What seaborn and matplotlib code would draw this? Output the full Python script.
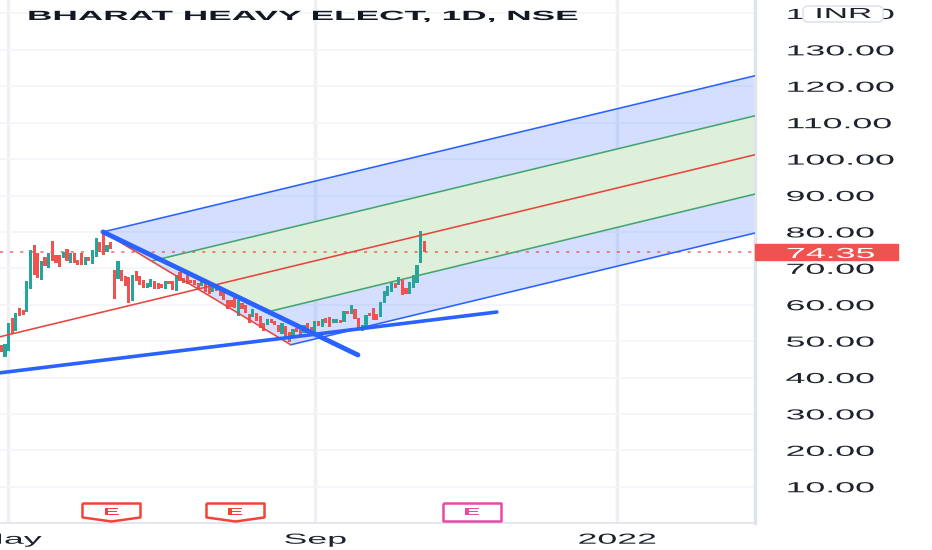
"""BHEL daily chart with a pitchfork drawn over the candles."""

import numpy as np
import pandas as pd
import seaborn as sns
import matplotlib.pyplot as plt
from matplotlib.patches import FancyBboxPatch, Rectangle
from matplotlib.patheffects import AbstractPathEffect
from matplotlib.transforms import Affine2D, IdentityTransform

# candle bodies, one per trading day
opens = [49.0, 45.6, 47.4, 56.3, 52.8, 59.0, 58.6, 58.1, 64.3, 76.4, 74.3, 66.8, 73.0, 70.0, 77.6,
         73.7, 73.7, 72.8, 75.2, 71.4, 74.3, 72.3, 74.1, 70.8, 73.2, 71.2, 73.2, 77.3, 79.6, 74.6,
         77.3, 69.6, 67.0, 69.6, 67.9, 67.5, 61.0, 69.3, 67.9, 66.8, 64.7, 65.0, 66.5, 66.1, 65.7,
         64.3, 66.4, 66.4, 63.9, 68.9, 67.3, 68.2, 66.8, 66.8, 65.9, 65.2, 65.9, 65.4, 63.6, 65.0,
         63.9, 63.6, 61.3, 61.3, 62.0, 57.0, 60.4, 60.0, 57.4, 56.6, 57.7, 57.0, 54.9, 54.5, 56.1,
         55.6, 54.5, 52.0, 54.2, 52.4, 51.1, 53.5, 53.5, 52.2, 54.9, 54.0, 52.2, 55.4, 53.8, 56.3,
         56.6, 54.9, 55.1, 55.8, 55.2, 58.4, 57.4, 58.8, 56.3, 52.9, 53.5, 57.8, 59.0, 57.4, 56.7,
         60.4, 62.4, 63.6, 65.9, 65.3, 66.8, 64.7, 63.0, 64.7, 65.9, 71.4, 77.5]
closes = [46.9, 49.2, 54.9, 52.0, 57.7, 57.0, 57.2, 66.4, 74.9, 68.2, 67.3, 71.9, 70.7, 74.1, 71.9,
          71.6, 70.5, 74.6, 71.9, 74.1, 71.4, 70.8, 70.8, 73.2, 72.1, 75.1, 78.3, 74.6, 73.7, 76.4,
          75.2, 61.6, 71.9, 66.4, 65.2, 60.6, 68.2, 66.4, 65.4, 64.5, 66.1, 67.1, 64.3, 64.3, 64.7,
          66.4, 65.7, 64.1, 68.2, 66.4, 65.9, 65.7, 65.9, 65.4, 64.5, 66.6, 63.6, 63.0, 65.0, 63.9,
          62.4, 61.3, 58.8, 59.3, 59.0, 61.3, 58.8, 57.7, 54.9, 58.8, 55.4, 53.5, 52.9, 56.1, 54.9,
          54.5, 52.4, 54.9, 51.1, 49.9, 53.4, 52.6, 51.7, 54.5, 52.2, 52.2, 55.4, 54.2, 56.0, 54.9,
          54.0, 56.0, 56.0, 54.9, 58.4, 57.4, 59.8, 56.1, 53.5, 54.5, 57.2, 56.9, 55.8, 55.8, 60.7,
          63.9, 65.2, 66.2, 64.5, 67.7, 62.7, 63.0, 66.2, 68.2, 70.9, 80.3, 74.35]

last_price = 74.35
price_ticks = [10, 20, 30, 40, 50, 60, 70, 80, 90, 100, 110, 120, 130, 140]
month_bars = [1.84, 86.0, 168.8]
month_labels = ["May", "Sep", "2022"]

# pitchfork and trend lines as [bar, bar], [price, price]
upper_bars, upper_prices = [27.9, 206.7], [80.0, 122.9]
lower_bars, lower_prices = [79.4, 206.7], [49.0, 79.7]
median_bars, median_prices = [-0.36, 206.7], [51.2, 101.2]
green_up_bars, green_up_prices = [41.6, 206.7], [72.1, 111.9]
green_low_bars, green_low_prices = [72.9, 206.7], [58.0, 90.4]
handle_bars, handle_prices = [27.9, 79.4], [80.0, 49.0]
falling_bars, falling_prices = [27.9, 97.8], [80.0, 46.2]
rising_bars, rising_prices = [-0.36, 135.9], [41.3, 58.0]

earnings_bars = [30.1, 64.0]
earnings_next_bar = [129.0]
earnings_price = 3.1

RED = "#ef5350"
GREEN = "#26a69a"
BLUE = "#2962ff"
GRID = "#f4f5f8"
TEXT = "#1e222d"


class Wide(AbstractPathEffect):
    """The reference screenshot is squeezed, so its glyphs are much wider than tall."""

    def __init__(self, sx=2.45, center=False):
        super().__init__()
        self.sx = sx
        self.center = center

    def draw_path(self, renderer, gc, tpath, affine, rgbFace=None):
        mid = tpath.get_extents().x1 / 2 if self.center else 0
        stretch = Affine2D().translate(-mid, 0).scale(self.sx, 1).translate(mid, 0)
        renderer.draw_path(gc, tpath, stretch + affine, rgbFace)


sns.set_theme(style="white")
plt.rcParams["font.family"] = ["Liberation Sans", "DejaVu Sans"]

fig = plt.figure(figsize=(9.32, 5.5), dpi=100)
ax = fig.add_axes([0, 27 / 550, 755 / 932, 523 / 550])
ax.set_xlim(-0.356, 206.7)
ax.set_ylim(0.05, 143.7)

ax.set_axisbelow(True)
ax.yaxis.grid(True, color=GRID, lw=1.2)
ax.xaxis.grid(True, color="#eef0f3", lw=2.5)

# channel fills
ax.fill(upper_bars + lower_bars[::-1], upper_prices + lower_prices[::-1],
        color=BLUE, alpha=0.2, lw=0, zorder=1)
ax.fill(green_up_bars + green_low_bars[::-1], green_up_prices + green_low_prices[::-1],
        color="#e0f2d8", alpha=0.95, lw=0, zorder=1.1)

# dotted last price line
ax.axhline(last_price, color=RED, lw=1.4, alpha=0.7, ls=(0, (1.6, 3.6)), zorder=1.5)

# candles
candles = pd.DataFrame({"bar": np.arange(len(opens)), "open": opens, "close": closes})
candles["bottom"] = candles[["open", "close"]].min(axis=1)
candles["height"] = (candles["close"] - candles["open"]).abs()
candles["color"] = np.where(candles["close"] >= candles["open"], GREEN, RED)
ax.bar(candles["bar"], candles["height"], bottom=candles["bottom"], width=0.86,
       color=candles["color"], lw=0, zorder=3)

# thin pitchfork lines
thin_lines = [
    (upper_bars, upper_prices, BLUE),
    (lower_bars, lower_prices, BLUE),
    (median_bars, median_prices, "#e8453c"),
    (green_up_bars, green_up_prices, "#45a571"),
    (green_low_bars, green_low_prices, "#45a571"),
    (handle_bars, handle_prices, "#e8453c"),
]
for xs, ys, colour in thin_lines:
    sns.lineplot(x=xs, y=ys, color=colour, lw=1.15, ax=ax, zorder=4, estimator=None)

# hand drawn trend lines
sns.lineplot(x=falling_bars, y=falling_prices, color=BLUE, lw=3.5, ax=ax, zorder=5, estimator=None)
sns.lineplot(x=rising_bars, y=rising_prices, color=BLUE, lw=2.6, ax=ax, zorder=5, estimator=None)

# earnings flags
flag = [(-1, 0.31), (1, 0.31), (1, -0.17), (0, -0.31), (-1, -0.17), (-1, 0.31)]
box = [(-1, 0.31), (1, 0.31), (1, -0.31), (-1, -0.31), (-1, 0.31)]
ax.scatter(earnings_bars, [earnings_price] * 2, marker=flag, s=1745, facecolor="white",
           edgecolor="#f44336", lw=1.8, zorder=6)
ax.scatter(earnings_next_bar, [earnings_price], marker=box, s=1745, facecolor="white",
           edgecolor="#e84aa6", lw=1.8, zorder=6)
for bar, colour in zip(earnings_bars + earnings_next_bar, ["#f44336", "#f44336", "#e84aa6"]):
    ax.text(bar, earnings_price, "E", color=colour, fontsize=7.2, fontweight="bold",
            ha="center", va="center", zorder=7, path_effects=[Wide(2.5, center=True)])

# axes
ax.yaxis.tick_right()
ax.set_yticks(price_ticks, [f"{p:.2f}" for p in price_ticks])
ax.set_xticks(month_bars, month_labels)
ax.tick_params(axis="y", length=0, pad=22, labelsize=10.5, labelcolor=TEXT)
ax.tick_params(axis="x", length=0, pad=7, labelsize=10.5, labelcolor=TEXT)
for label in ax.get_yticklabels():
    label.set_path_effects([Wide()])
for label in ax.get_xticklabels():
    label.set_path_effects([Wide(center=True)])
for side in ["top", "left"]:
    ax.spines[side].set_visible(False)
ax.spines["right"].set_color("#e0e3eb")
ax.spines["right"].set_linewidth(2.4)
ax.spines["bottom"].set_color("#e0e3eb")
ax.spines["bottom"].set_linewidth(1.2)

# last price tag
ax.add_patch(Rectangle((1.0, last_price - 2.2), 143 / 755, 4.4, transform=ax.get_yaxis_transform(),
                       color=RED, clip_on=False, zorder=6))
ax.text(1 + 31 / 755, last_price, "74.35", transform=ax.get_yaxis_transform(), color="white",
        fontsize=10.5, ha="left", va="center_baseline", clip_on=False, zorder=7,
        path_effects=[Wide()])

# currency pill over the top price label, placed in pixels
fig.add_artist(FancyBboxPatch((803, 528), 80, 16, boxstyle="round,pad=0,rounding_size=5",
                              fc="white", ec="#e0e3eb", lw=1.2, transform=IdentityTransform(),
                              zorder=10))
fig.text(843 / 932, 536 / 550, "INR", color=TEXT, fontsize=10.5, ha="center", va="center",
         zorder=11, path_effects=[Wide(2.3, center=True)])

ax.set_xlabel("")
ax.set_ylabel("")
fig.text(27 / 932, 1 - 20 / 550, "BHARAT HEAVY ELECT, 1D, NSE", color="#131722", fontsize=9.6,
         fontweight="bold", ha="left", va="baseline", path_effects=[Wide(2.64)])

fig.savefig("out.png", dpi=100)
